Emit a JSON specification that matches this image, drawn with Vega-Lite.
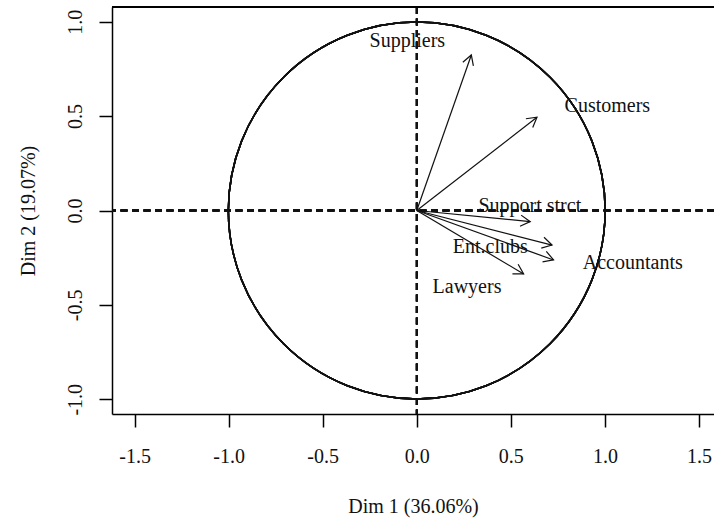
{
  "$schema": "https://vega.github.io/schema/vega-lite/v6.json",
  "width": 602,
  "height": 407,
  "autosize": {"type": "none"},
  "padding": {"left": 112, "top": 7, "right": 0, "bottom": 107},
  "background": "white",
  "config": {
    "view": {"stroke": null},
    "font": "Liberation Serif",
    "axis": {
      "grid": false,
      "domainColor": "black",
      "domainWidth": 1.5,
      "tickColor": "black",
      "tickWidth": 1.5,
      "tickSize": 13,
      "labelFont": "Liberation Serif",
      "labelFontSize": 20,
      "labelColor": "#111",
      "labelFlush": false,
      "labelOverlap": false,
      "labelExpr": "(datum.value < 0 ? '-' : '') + format(abs(datum.value), '.1f')",
      "titleFont": "Liberation Serif",
      "titleFontSize": 20,
      "titleFontWeight": "normal",
      "titleColor": "#111"
    }
  },
  "datasets": {
    "vars": [
      {"name": "Suppliers", "x": 0.29, "y": 0.824, "lx": -0.05, "ly": 0.898},
      {"name": "Customers", "x": 0.639, "y": 0.494, "lx": 1.013, "ly": 0.553},
      {"name": "Support strct", "x": 0.603, "y": -0.059, "lx": 0.601, "ly": 0.024},
      {"name": "Ent.clubs", "x": 0.719, "y": -0.183, "lx": 0.391, "ly": -0.193},
      {"name": "Accountants", "x": 0.727, "y": -0.262, "lx": 1.148, "ly": -0.276},
      {"name": "Lawyers", "x": 0.568, "y": -0.336, "lx": 0.267, "ly": -0.407}
    ]
  },
  "data": {"name": "vars"},
  "encoding": {
    "x": {
      "field": "x",
      "type": "quantitative",
      "scale": {"domain": [-1.62, 1.58], "nice": false, "zero": false},
      "axis": {
        "values": [-1.5, -1, -0.5, 0, 0.5, 1, 1.5],
        "labelBaseline": "alphabetic",
        "labelPadding": 35,
        "title": "Dim 1 (36.06%)",
        "titleBaseline": "alphabetic",
        "titleY": 98
      }
    },
    "y": {
      "field": "y",
      "type": "quantitative",
      "scale": {"domain": [-1.078, 1.078], "nice": false, "zero": false},
      "axis": {
        "values": [-1, -0.5, 0, 0.5, 1],
        "labelAngle": 270,
        "labelAlign": "center",
        "labelBaseline": "alphabetic",
        "labelPadding": 18,
        "title": "Dim 2 (19.07%)",
        "titleAngle": 270,
        "titleBaseline": "alphabetic",
        "titleX": -78
      }
    }
  },
  "layer": [
    {
      "mark": {"type": "rule", "strokeDash": [7, 4.5], "strokeWidth": 1.8, "color": "#111"},
      "encoding": {
        "x": {"datum": 0, "type": "quantitative"},
        "y": null
      }
    },
    {
      "mark": {"type": "rule", "strokeDash": [7, 4.5], "strokeWidth": 1.8, "color": "#111"},
      "encoding": {
        "x": null,
        "y": {"datum": 0, "type": "quantitative"}
      }
    },
    {
      "mark": {"type": "rule", "strokeWidth": 1.5, "color": "black"},
      "encoding": {
        "x": null,
        "y": {"datum": 1.078, "type": "quantitative"}
      }
    },
    {
      "mark": {"type": "point", "shape": "circle", "filled": false, "size": 142000, "stroke": "#111", "strokeWidth": 1.5, "opacity": 1},
      "encoding": {
        "x": {"datum": 0, "type": "quantitative"},
        "y": {"datum": 0, "type": "quantitative"}
      }
    },
    {
      "mark": {"type": "rule", "strokeWidth": 1.2, "color": "#111"},
      "encoding": {
        "x2": {"datum": 0},
        "y2": {"datum": 0}
      }
    },
    {
      "transform": [{"calculate": "atan2(datum.x, datum.y) * 180 / PI", "as": "ang"}],
      "mark": {
        "type": "point",
        "shape": "M -0.5 0.866 L 0 0 L 0.5 0.866",
        "filled": false,
        "size": 500,
        "stroke": "#111",
        "strokeWidth": 1.2,
        "opacity": 1
      },
      "encoding": {
        "angle": {"field": "ang", "type": "quantitative", "scale": null}
      }
    },
    {
      "mark": {"type": "text", "font": "Liberation Serif", "fontSize": 20, "color": "#111", "align": "center", "baseline": "middle"},
      "encoding": {
        "x": {"field": "lx", "type": "quantitative"},
        "y": {"field": "ly", "type": "quantitative"},
        "text": {"field": "name"}
      }
    }
  ]
}
